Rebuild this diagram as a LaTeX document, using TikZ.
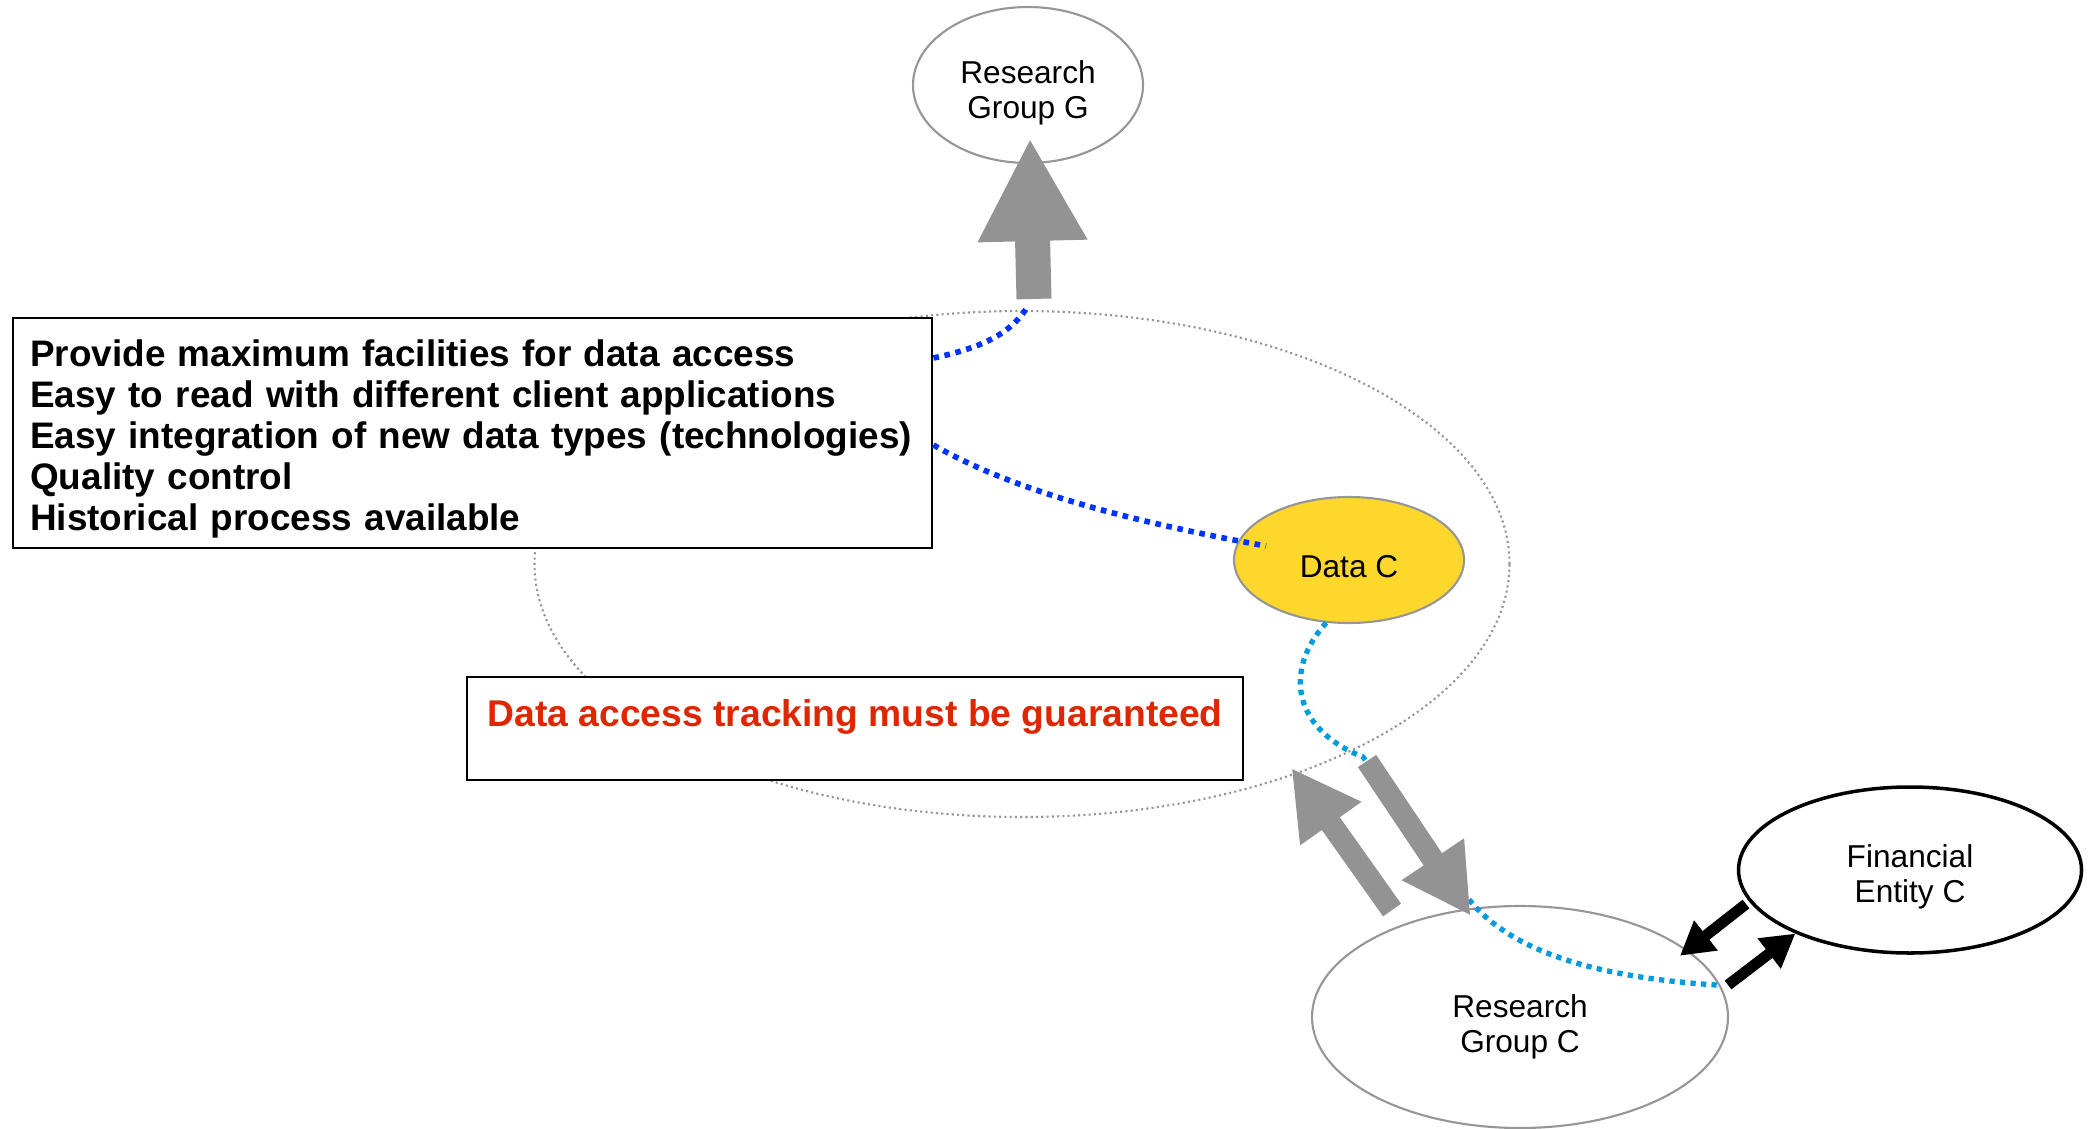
\documentclass[tikz,border=0pt]{standalone}
\usepackage{fontspec}
\setmainfont{Liberation Sans}
\usepackage{tikz}
\usetikzlibrary{arrows.meta,shapes.geometric}

\definecolor{arrowgray}{RGB}{147,147,147}
\definecolor{rimgray}{RGB}{150,150,150}
\definecolor{datayellow}{RGB}{253,215,44}
\definecolor{linkblue}{RGB}{0,51,255}
\definecolor{flowblue}{RGB}{0,155,222}
\definecolor{warnred}{RGB}{222,38,0}

\begin{document}
\begin{tikzpicture}[group/.style={ellipse,draw=rimgray,line width=0.6pt,fill=white,inner sep=0pt,align=center,font=\fontsize{9}{10}\selectfont},
	notebox/.style={anchor=north west,draw,line width=0.7pt,fill=white,inner ysep=0pt,font=\fontsize{10.5}{11.7}\selectfont\bfseries},
	fatarrow/.style={arrowgray,line width=0.22cm,-{Triangle[length=0.68cm,width=0.70cm]}},
	payarrow/.style={black,line width=0.11cm,-{Triangle[length=0.33cm,width=0.36cm]}},
	linkdots/.style={linkblue,line width=1.6pt,dash pattern=on 1.6pt off 1.6pt},
	flowdots/.style={flowblue,line width=1.5pt,dash pattern=on 1.5pt off 1.5pt}]
	\useasboundingbox (0,0) rectangle (20.94,11.28);

	\node (bigell) at (10.22,5.64) [ellipse,draw=rimgray,line width=0.6pt,dash pattern=on 0.6pt off 0.9pt,minimum width=9.75cm,minimum height=5.06cm] {};

	\node (reqbox) at (0.12,8.11) [notebox,inner xsep=0.17cm,text width=8.85cm,align=left,text height=0.48cm,text depth=1.82cm] {Provide maximum facilities for data access\\Easy to read with different client applications\\Easy integration of new data types (technologies)\\Quality control\\Historical process available};
	\node (trackbox) at (4.66,4.52) [notebox,inner xsep=0pt,minimum width=7.76cm,text height=0.49cm,text depth=0.54cm,text=warnred,font=\fontsize{10.6}{12}\selectfont\bfseries] {Data access tracking must be guaranteed};

	\node (rgG) at (10.28,10.43) [group,text height=21.1pt,minimum width=2.30cm,minimum height=1.56cm] {Research\\Group G};
	\node (dataC) at (13.49,5.68) [group,text height=10.3pt,fill=datayellow,minimum width=2.30cm,minimum height=1.26cm] {Data C};
	\node (rgC) at (15.20,1.11) [group,text height=21.9pt,minimum width=4.16cm,minimum height=2.22cm] {Research\\Group C};
	\node (finC) at (19.10,2.58) [group,text height=20.4pt,draw=black,line width=1pt,minimum width=3.43cm,minimum height=1.66cm] {Financial\\Entity C};

	\coordinate (dnstart) at (13.67,3.67);
	\coordinate (upstart) at (13.92,2.18);
	\coordinate (finout) at (17.46,2.24);
	\coordinate (finin) at (17.28,1.43);

	\draw[linkdots] ([yshift=-4.1mm]reqbox.north east) .. controls (9.80,7.80) and (10.10,7.93) .. ([xshift=0.6mm,yshift=0.4mm]bigell.north);
	\draw[linkdots] ([yshift=-12.8mm]reqbox.north east) .. controls (10.20,6.33) and (11.50,6.03) .. ([shift={(-0.83,0.14)}]dataC.center);
	\draw[flowdots] (dataC.250) .. controls (12.85,4.60) and (12.90,4.00) .. (13.63,3.71) -- (14.67,2.31) .. controls (15.10,1.75) and (16.00,1.50) .. (rgC.9);

	\draw[fatarrow,line width=0.35cm,-{Triangle[length=1.03cm,width=1.02cm]}] ([xshift=1.2mm,yshift=1.1mm]bigell.north) -- ([xshift=0.2mm,yshift=2.6mm]rgG.south);
	\draw[fatarrow] (dnstart) -- ([xshift=-0.3mm,yshift=-0.8mm]rgC.113);
	\draw[fatarrow] (upstart) -- ([xshift=-0.8mm,yshift=0.5mm]bigell.-37);

	\draw[payarrow] (finout) -- ([xshift=-1mm,yshift=-0.4mm]rgC.21);
	\draw[payarrow] (finin) -- (finC.209);
\end{tikzpicture}
\end{document}
